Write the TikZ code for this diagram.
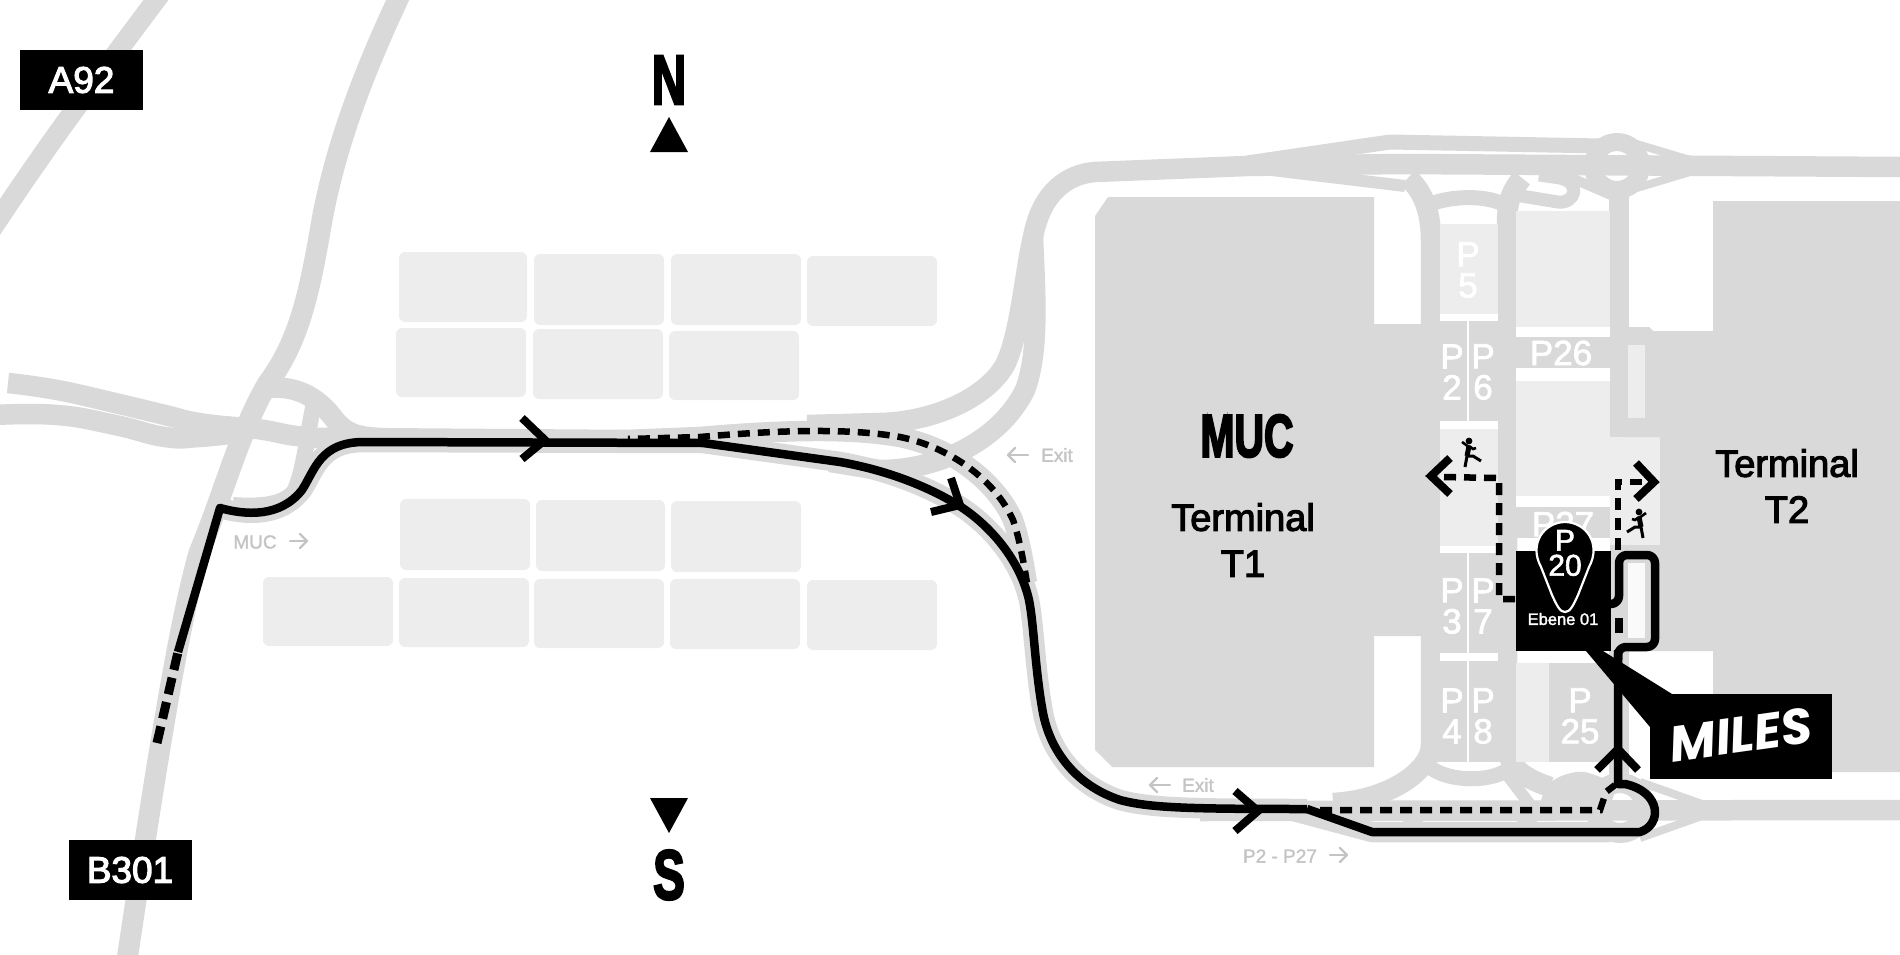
\documentclass[tikz,border=0pt]{standalone}
\usepackage{fontspec}
\setmainfont{Liberation Sans}
\newfontfamily\heavyfont{Liberation Sans Bold}
\newfontfamily\milesfont{Poppins}
\definecolor{rd}{HTML}{D9D9D9}
\definecolor{lt}{HTML}{EDEDED}
\definecolor{lab}{HTML}{C4C4C4}
\def\mainroute{(220,508) .. controls (245,515) and (280,518) .. (302,490) .. controls (315,470) and (320,442) .. (364,442) -- (703,443) -- (840,462) .. controls (885,470) and (925,485) .. (958,505) .. controls (990,525) and (1020,560) .. (1029,600) .. controls (1034,625) and (1035,670) .. (1043,713) .. controls (1050,750) and (1075,785) .. (1120,800) .. controls (1150,808) and (1190,809) .. (1307,809)}
\def\dashcurve{(700,437) .. controls (780,430) and (850,428) .. (900,437) .. controls (950,447) and (995,480) .. (1013,520) .. controls (1020,540) and (1024,565) .. (1027,583)}
\tikzset{
  fat/.style={execute at begin node={\special{pdf:code 2 Tr #1 w}},execute at end node={\special{pdf:code 0 Tr}}},
  road/.style={draw=rd,line width=20.5pt,line join=round},
  route/.style={draw=black,line width=8.5pt,line join=round},
  chev/.style={draw=black,line width=8pt,line join=miter},
  dashroute/.style={draw=black,line width=6.5pt,dash pattern=on 12pt off 8pt},
  block/.style={fill=lt,rounded corners=6pt},
  plabel/.style={text=white,fat=0.7,font=\fontsize{35}{31}\selectfont,align=center,inner sep=0pt},
  roadlabel/.style={text=lab,fat=0.3,font=\fontsize{19}{19}\selectfont,inner sep=0pt},
  termlabel/.style={text=black,fat=1.1,font=\fontsize{38}{46}\selectfont,align=center,inner sep=0pt},
  signbox/.style={fill=black,text=white,fat=1.1,font=\fontsize{37}{37}\selectfont,inner sep=0pt,minimum width=123pt,minimum height=60pt},
  heavytext/.style={text=black,fat=#1,inner sep=0pt},
  thinarrow/.style={draw=lab,line width=2.4pt,line cap=round,line join=round},
  runner/.pic={
    \fill[black] (-1,-12) circle (3.4);
    \draw[black,line width=5pt] (-1,-7) -- (-3,3);
    \draw[black,line width=2.6pt] (-1,-6) -- (-8,-11);
    \draw[black,line width=2.6pt] (-1,-7) -- (3,-4) -- (6,-5);
    \draw[black,line width=3pt] (-3,3) -- (-5,14);
    \draw[black,line width=3pt] (-3,3) -- (3,3) -- (11,8);
  }
}
\begin{document}
\begin{tikzpicture}[x=1pt,y=-1pt]
\useasboundingbox (0,0) rectangle (1900,955);
\clip (0,0) rectangle (1900,955);
% ---- parking blocks
\fill[block] (399,252) rectangle (527,322);
\fill[block] (534,254) rectangle (664,325);
\fill[block] (671,254) rectangle (801,325);
\fill[block] (807,256) rectangle (937,326);
\fill[block] (396,328) rectangle (526,397);
\fill[block] (533,329) rectangle (663,399);
\fill[block] (669,331) rectangle (799,400);
\fill[block] (400,499) rectangle (530,570);
\fill[block] (536,500) rectangle (665,571);
\fill[block] (671,501) rectangle (801,572);
\fill[block] (263,577) rectangle (393,646);
\fill[block] (399,578) rectangle (529,647);
\fill[block] (534,579) rectangle (664,648);
\fill[block] (670,579) rectangle (800,649);
\fill[block] (807,580) rectangle (937,650);
% ---- roads
\draw[road,line width=20pt] plot[smooth,tension=0.8] coordinates {(-10,232) (60,130) (162,-8)};
\draw[road,line width=21pt] (400,-5) .. controls (360,80) and (335,150) .. (322,220) .. controls (310,290) and (300,340) .. (268,383) .. controls (240,430) and (225,490) .. (199,553) .. controls (180,620) and (160,740) .. (127,960);
\draw[road] plot[smooth,tension=0.8] coordinates {(8,383) (57,390) (115,403) (165,415) (199,423) (245,428) (264,430) (306,437) (360,438) (625,440)};
\draw[road] plot[smooth,tension=0.8] coordinates {(-5,415) (57,415) (115,425) (165,437) (199,437) (237,433)};
\draw[road] (268,388) .. controls (300,385) and (320,400) .. (335,420) .. controls (345,432) and (355,437) .. (380,438);
\draw[road,line width=16pt] (314,403) .. controls (306,440) and (305,465) .. (295,490) .. controls (285,505) and (260,507) .. (233,505);
\draw[road] \mainroute;
\draw[road] \dashcurve;
\draw[road] (600,441) -- (700,437);
\draw[road] (807,425) -- (880,423) .. controls (930,422) and (985,400) .. (1005,365) .. controls (1020,335) and (1025,270) .. (1033,237) .. controls (1040,200) and (1060,175) .. (1095,172) -- (1247,166) -- (1400,164) -- (1900,167);
\draw[road] (830,462) -- (880,470) .. controls (940,470) and (1000,440) .. (1025,390) .. controls (1040,350) and (1035,290) .. (1033,237);
\draw[road,line width=15pt] (1247,163) -- (1390,142) -- (1601,146);
\draw[road,line width=12pt] (1255,168) -- (1405,186);
\draw[road] (1408,178) .. controls (1422,190) and (1431,210) .. (1431,240) -- (1431,745) .. controls (1431,770) and (1390,800) .. (1333,803);
\draw[road] (1522,178) .. controls (1512,190) and (1507,200) .. (1507,225) -- (1507,745) .. controls (1507,770) and (1530,780) .. (1550,787);
\draw[road,line width=15pt] (1431,204) .. controls (1450,196) and (1490,194) .. (1508,207);
\draw[road,line width=15pt] (1431,768) .. controls (1450,782) and (1490,782) .. (1507,770);
\draw[road,line width=13pt] (1515,195) -- (1558,202) .. controls (1575,204) and (1582,183) .. (1560,178) -- (1539,175);
\draw[road,line width=10pt] (1560,173) -- (1611,195);
\draw[road] (1619,190) -- (1619,440);
\draw[road] (1619,640) -- (1619,790);
\draw[road,line width=18pt] (1617,166) circle (24);
\draw[road,line width=8pt] (1630,142) -- (1690,160);
\draw[road,line width=8pt] (1630,190) -- (1690,172);
% south road system
\draw[road] (1200,811) -- (1900,810);
\draw[road] (1290,810) -- (1372,832) -- (1610,832);
\draw[road,line width=20pt] (1620,808) circle (25);
\fill[rd] plot[smooth,tension=0.7] coordinates {(1540,805) (1550,783) (1577,772) (1600,777) (1615,785) (1610,805)} -- cycle;
\draw[road,line width=8pt] (1640,782) -- (1702,804);
\draw[road,line width=8pt] (1640,838) -- (1702,816);
\draw[road,line width=12pt] (1505,772) -- (1531,806);
\draw[road,line width=20pt] (1413,810) -- (1413,826);
\draw[road,line width=20pt] (1527,810) -- (1527,826);
% ---- T1 building
\fill[rd] (1108,197) -- (1374,197) -- (1374,324) -- (1440,324) -- (1440,636) -- (1374,636) -- (1374,767) -- (1112,767) -- (1095,750) -- (1095,216) -- cycle;
% ---- central strip
\fill[rd] (1421,321) rectangle (1516,762);
\fill[lt] (1440,224) rectangle (1498,314);
\fill[white] (1440,314) rectangle (1498,321);
\fill[white] (1440,421) rectangle (1498,429);
\fill[lt] (1440,429) rectangle (1498,546);
\fill[white] (1440,546) rectangle (1498,553);
\fill[white] (1440,653) rectangle (1498,661);
\fill[white] (1467,321) rectangle (1469,421);
\fill[white] (1467,553) rectangle (1469,653);
\fill[white] (1467,661) rectangle (1469,762);
% ---- right column
\fill[lt] (1516,211) rectangle (1610,327);
\fill[rd] (1516,337) rectangle (1610,368);
\fill[lt] (1516,381) rectangle (1610,496);
\fill[rd] (1516,507) rectangle (1610,538);
\fill[lt] (1516,663) rectangle (1549,762);
\fill[rd] (1549,663) rectangle (1610,762);
\fill[white] (1516,327) rectangle (1610,337);
\fill[white] (1516,368) rectangle (1610,381);
\fill[white] (1516,496) rectangle (1610,507);
% ---- T2 building
\fill[lt] (1610,437) rectangle (1660,545);
\fill[rd] (1713,201) -- (1900,201) -- (1900,772) -- (1713,772) -- (1713,651) -- (1610,651) -- (1610,545) -- (1660,545) -- (1660,437) -- (1628,437) -- (1628,327) -- (1649,327) -- (1653,331) -- (1713,331) -- cycle;
\fill[lt] (1628,345) rectangle (1645,418);
\fill[white!70!lt] (1628,563) rectangle (1645,638);
% ---- labels on ground
\node[plabel] (p5) at (1468,270) {P\\5};
\node[plabel] (p2) at (1452,372) {P\\2};
\node[plabel] (p6) at (1483,372) {P\\6};
\node[plabel] (p26) at (1561,353) {P26};
\node[plabel] (p27) at (1563,524) {P27};
\node[plabel] (p3) at (1452,606) {P\\3};
\node[plabel] (p7) at (1483,606) {P\\7};
\node[plabel] (p4) at (1452,716) {P\\4};
\node[plabel] (p8) at (1483,716) {P\\8};
\node[plabel] (p25) at (1580,716) {P\\25};
% ---- black P20 block
\fill[black] (1516,551) rectangle (1611,651);
\fill[black] (1615,618) rectangle (1623,633);
% ---- MILES sign
\fill[black] (1586,651) -- (1603,651) -- (1672,694) -- (1650,727) -- cycle;
\node[fill=black,minimum width=182pt,minimum height=85pt,inner sep=0pt,anchor=north west] (milesbox) at (1650,694) {};
\node[text=white,rotate=8,inner sep=0pt,font=\milesfont\bfseries\itshape\fontsize{50}{50}\selectfont] (miles) at (1741,735) {MILES};
% ---- pin
\fill[black,draw=white,line width=2.2pt] (1565,612) .. controls (1560,612) and (1557,606) .. (1552,595) -- (1541,567) .. controls (1528,543) and (1545,522) .. (1565,522) .. controls (1585,522) and (1602,543) .. (1589,567) -- (1578,595) .. controls (1573,606) and (1570,612) .. (1565,612) -- cycle;
\node[text=white,fat=0.6,font=\fontsize{30}{25}\selectfont,align=center,inner sep=0pt] (p20) at (1565,553) {P\\20};
\node[text=white,fat=0.3,font=\fontsize{16.5}{16.5}\selectfont,inner sep=0pt] (ebene) at (1563,619) {Ebene 01};
% ---- routes
\draw[route] \mainroute;
\draw[route] (178,652) -- (220,508) -- (222,508);
\draw[route,dash pattern=on 17pt off 8pt,line width=9pt] (157,743) -- (178,652);
\draw[route] (1307,809) -- (1372,832) -- (1640,832) .. controls (1662,825) and (1662,792) .. (1625,784) -- (1618,784) -- (1618,650);
\draw[route,rounded corners=8pt] (1610,604) -- (1619,604) -- (1619,555) -- (1655,555) -- (1655,647) -- (1618,647) -- (1618,660);
\draw[dashroute,dash phase=10pt] (628,439) -- \dashcurve;
\draw[dashroute] (1515,599) -- (1499,599) -- (1499,478) -- (1441,477);
\draw[dashroute] (1618,550) -- (1618,482) -- (1650,482);
\draw[dashroute] (1320,810) -- (1600,810) -- (1606,792) -- (1615,785);
% ---- chevrons
\draw[chev] (522,418) -- (545,440) -- (522,459);
\draw[chev] (951,478) -- (960,505) -- (931,512);
\draw[chev] (1235,791) -- (1258,811) -- (1235,831);
\draw[chev] (1450,458) -- (1431,476) -- (1450,494);
\draw[chev] (1636,463) -- (1654,482) -- (1636,499);
\draw[chev] (1597,770) -- (1618,749) -- (1638,770);
% ---- runners
\pic at (1470,453) {runner};
\pic[xscale=-1] at (1638,524) {runner};
% ---- signs and compass
\node[signbox] (a92) at (81.5,80) {A92};
\node[signbox] (b301) at (130,870) {B301};
\node[heavytext=2.6,font=\heavyfont\fontsize{70}{70}\selectfont] (north) at (669,80) {\scalebox{0.68}[1]{N}};
\fill[black] (650,152) -- (688,152) -- (669,117) -- cycle;
\fill[black] (650,798) -- (688,798) -- (669,833) -- cycle;
\node[heavytext=2.6,font=\heavyfont\fontsize{70}{70}\selectfont] (south) at (669,875) {\scalebox{0.68}[1]{S}};
\node[heavytext=2.4,font=\heavyfont\fontsize{60}{60}\selectfont] (muc) at (1247,436) {\scalebox{0.68}[1]{MUC}};
\node[termlabel] (t1) at (1243,540) {Terminal\\T1};
\node[termlabel] (t2) at (1787,486) {Terminal\\T2};
% ---- grey road labels
\node[roadlabel] (exit1) at (1057,455) {Exit};
\draw[thinarrow] (1028,455) -- (1008,455);
\draw[thinarrow] (1015,448) -- (1008,455) -- (1015,462);
\node[roadlabel] (exit2) at (1198,785) {Exit};
\draw[thinarrow] (1170,785) -- (1150,785);
\draw[thinarrow] (1157,778) -- (1150,785) -- (1157,792);
\node[roadlabel] (muclab) at (255,542) {MUC};
\draw[thinarrow] (290,541) -- (307,541);
\draw[thinarrow] (300,534) -- (307,541) -- (300,548);
\node[roadlabel] (p2p27) at (1280,856) {P2 - P27};
\draw[thinarrow] (1330,855) -- (1347,855);
\draw[thinarrow] (1340,848) -- (1347,855) -- (1340,862);
\end{tikzpicture}
\end{document}
